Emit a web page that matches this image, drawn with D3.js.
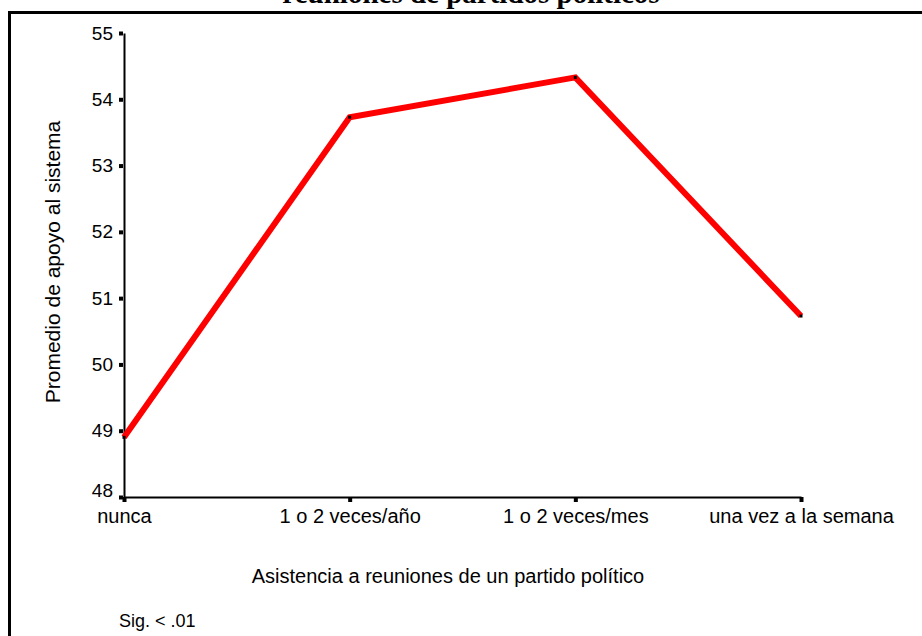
<!DOCTYPE html>
<html><head><meta charset="utf-8">
<script src="https://cdn.jsdelivr.net/npm/d3@7"></script>
<style>body{margin:0;background:#fff}svg{display:block}</style>
</head><body>
<svg id="c" width="922" height="636"></svg>
<script>
const categories = ["nunca","1 o 2 veces/año","1 o 2 veces/mes","una vez a la semana"];
const values = [48.9, 53.73, 54.33, 50.73];
const yTicks = [48,49,50,51,52,53,54,55];
const title = "reuniones de partidos políticos";
const xTitle = "Asistencia a reuniones de un partido político";
const yTitle = "Promedio de apoyo al sistema";
const note = "Sig. < .01";

const svg = d3.select("#c");
const x = d3.scalePoint().domain(categories).range([124, 801]);
const y = d3.scaleLinear().domain([48,55]).range([497, 33]);

// frame
svg.append("rect").attr("x",9.5).attr("y",12.5).attr("width",940).attr("height",700)
  .attr("fill","none").attr("stroke","#000").attr("stroke-width",3);
// title (cut off at the top as in the original)
svg.append("text").attr("x",471).attr("y",3).attr("text-anchor","middle")
  .attr("font-family","Liberation Serif, Times New Roman, serif").attr("font-weight","bold")
  .attr("font-size",29).text(title);

const font = "Liberation Sans, Arial, sans-serif";
// y axis
const ya = svg.append("g").attr("transform","translate(124,0)")
  .call(d3.axisLeft(y).tickValues(yTicks).tickSize(0).tickPadding(11).tickFormat(d3.format("d")));
ya.select(".domain").attr("stroke","#000").attr("stroke-width",2);
ya.selectAll("text").attr("font-family",font).attr("font-size",19).attr("fill","#000");
ya.selectAll(".tick").filter(d => d === yTicks[0]).select("text").attr("y",-7);
ya.selectAll(".tick").append("rect").attr("x",-5).attr("y",-2).attr("width",4).attr("height",4).attr("fill","#000");

// x axis
const xa = svg.append("g").attr("transform","translate(0,497)")
  .call(d3.axisBottom(x).tickSize(0).tickPadding(12));
xa.select(".domain").attr("stroke","#000").attr("stroke-width",2);
xa.selectAll("text").attr("font-family",font).attr("font-size",20).attr("fill","#000");
xa.selectAll(".tick").append("rect").attr("x",-2).attr("y",0).attr("width",4).attr("height",5).attr("fill","#000");

// line
svg.append("path").datum(values)
  .attr("d", d3.line().x((d,i)=>x(categories[i])).y(d=>y(d)))
  .attr("fill","none").attr("stroke","#ff0000").attr("stroke-width",6).attr("stroke-linejoin","miter");
svg.selectAll(".pt").data(values).join("rect").attr("class","pt")
  .attr("x",(d,i)=>x(categories[i])-1.5).attr("y",d=>y(d)-1.5).attr("width",3).attr("height",3).attr("fill","#000");

// titles
svg.append("text").attr("transform","translate(60,262) rotate(-90)").attr("text-anchor","middle")
  .attr("font-family",font).attr("font-size",21).text(yTitle);
svg.append("text").attr("x",448).attr("y",583).attr("text-anchor","middle")
  .attr("font-family",font).attr("font-size",20).text(xTitle);
svg.append("text").attr("x",119).attr("y",627)
  .attr("font-family",font).attr("font-size",18).text(note);
</script>
</body></html>
